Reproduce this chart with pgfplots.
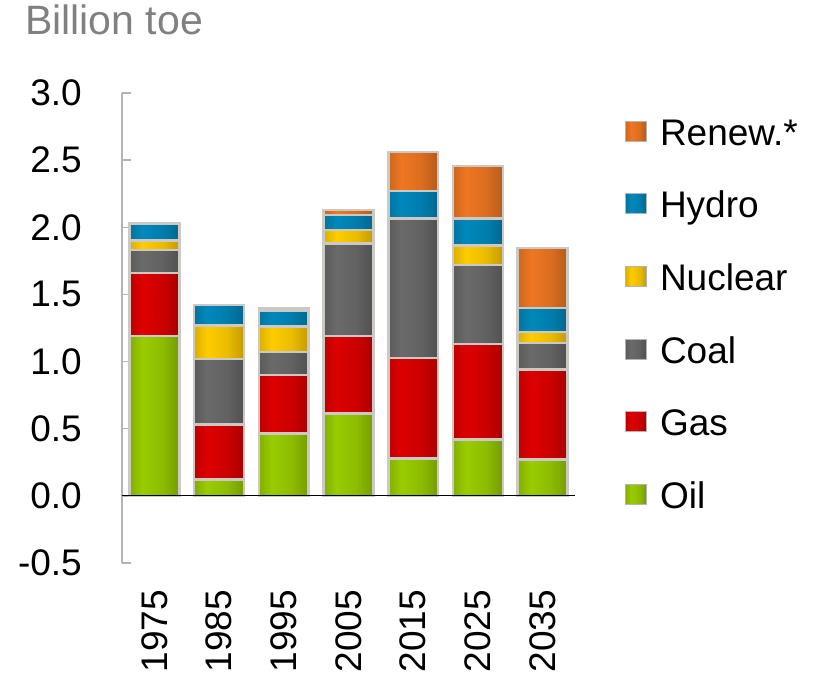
\documentclass[border=0pt]{standalone}
\usepackage{pgfplots}
\usepackage{pgfplotstable}
\pgfplotsset{compat=1.18}
\usepackage{fontspec}
\setmainfont{Liberation Sans}
\definecolor{oilc}{HTML}{99CC00}
\definecolor{gasc}{HTML}{DD0000}
\definecolor{coalc}{HTML}{6A6A6A}
\definecolor{nucc}{HTML}{FFCC00}
\definecolor{hydc}{HTML}{0088BB}
\definecolor{renc}{HTML}{EE7722}
\definecolor{axgray}{HTML}{B4B4B4}
\definecolor{sepgray}{HTML}{CCC8C4}
\definecolor{titlegray}{HTML}{808080}

\newcommand\mkshade[2]{%
  \pgfdeclarehorizontalshading{#1}{100bp}{color(0bp)=(#2!42!black); color(18bp)=(#2!78!black); color(38bp)=(#2); color(58bp)=(#2!92!black); color(84bp)=(#2!68!black); color(100bp)=(#2!42!black)}}
\mkshade{oilsh}{oilc}
\mkshade{gassh}{gasc}
\mkshade{coalsh}{coalc}
\mkshade{nucsh}{nucc}
\mkshade{hydsh}{hydc}
\mkshade{rensh}{renc}

\pgfplotstableread{
x oil gas coal nuc hyd ren
0 1.19 0.47 0.17 0.07 0.13 0.00
1 0.12 0.41 0.49 0.25 0.15 0.00
2 0.465 0.435 0.17 0.19 0.12 0.02
3 0.615 0.575 0.69 0.10 0.11 0.04
4 0.28 0.745 1.04 0.00 0.205 0.29
5 0.42 0.71 0.59 0.145 0.20 0.39
6 0.27 0.67 0.20 0.08 0.18 0.445
}\data
% cumulative tops of the stacked segments
\pgfplotstablecreatecol[expr={\thisrow{oil}}]{c1}\data
\pgfplotstablecreatecol[expr={\thisrow{c1}+\thisrow{gas}}]{c2}\data
\pgfplotstablecreatecol[expr={\thisrow{c2}+\thisrow{coal}}]{c3}\data
\pgfplotstablecreatecol[expr={\thisrow{c3}+\thisrow{nuc}}]{c4}\data
\pgfplotstablecreatecol[expr={\thisrow{c4}+\thisrow{hyd}}]{c5}\data
\pgfplotstablecreatecol[expr={\thisrow{c5}+\thisrow{ren}}]{c6}\data

\newcommand\legimg[1]{\addlegendimage{legend image code/.code={\draw[shading=#1, draw=axgray, line width=1pt] (0pt,4pt) rectangle (21pt,24pt);}}}

\begin{document}
\begin{tikzpicture}
\path[use as bounding box] (-122pt,-115pt) rectangle (708pt,563pt);
\begin{axis}[
  scale only axis, width=453pt, height=470pt,
  at={(0pt,0pt)}, anchor=south west,
  xmin=-0.5, xmax=6.5, ymin=-0.5, ymax=3.0,
  ybar, bar width=0.77,
  axis y line*=left, axis x line*=bottom,
  x axis line style={draw=none},
  y axis line style={draw=axgray, line width=2pt},
  xtick={0,1,2,3,4,5,6},
  xticklabels={1975,1985,1995,2005,2015,2025,2035},
  xtick style={draw=none},
  ytick={-0.5,0,0.5,1,1.5,2,2.5,3},
  ytick style={draw=axgray, line width=1.5pt},
  tick align=inside, major tick length=9pt,
  /pgf/number format/assume math mode=true,
  /pgf/number format/fixed,
  /pgf/number format/fixed zerofill,
  /pgf/number format/precision=1,
  tick label style={font=\fontsize{37}{44}\selectfont, inner sep=0pt},
  yticklabel style={anchor=east, xshift=-40pt},
  xticklabel style={rotate=90, anchor=east},
  xticklabel shift=27pt,
  every axis plot post/.append style={bar shift=0pt, draw=sepgray, line width=2.5pt},
  legend style={at={(1.110,0.953)}, anchor=north west, draw=none, fill=none,
    inner sep=0pt, row sep=34.6pt, column sep=13pt,
    font=\fontsize{37}{44}\selectfont,
    nodes={inner sep=0pt, text height=30pt, text depth=8pt, anchor=base west}},
  legend cell align=left,
]
\pgfplotsinvokeforeach{0,...,6}{
  \addplot[forget plot, shading=rensh, restrict x to domain=#1:#1] table[x=x,y=c6]{\data};
  \addplot[forget plot, shading=hydsh, restrict x to domain=#1:#1] table[x=x,y=c5]{\data};
  \addplot[forget plot, shading=nucsh, restrict x to domain=#1:#1] table[x=x,y=c4]{\data};
  \addplot[forget plot, shading=coalsh, restrict x to domain=#1:#1] table[x=x,y=c3]{\data};
  \addplot[forget plot, shading=gassh, restrict x to domain=#1:#1] table[x=x,y=c2]{\data};
  \addplot[forget plot, shading=oilsh, restrict x to domain=#1:#1] table[x=x,y=c1]{\data};
}
\legimg{rensh}\addlegendentry{Renew.*}
\legimg{hydsh}\addlegendentry{Hydro}
\legimg{nucsh}\addlegendentry{Nuclear}
\legimg{coalsh}\addlegendentry{Coal}
\legimg{gassh}\addlegendentry{Gas}
\legimg{oilsh}\addlegendentry{Oil}
\draw[black, line width=1.2pt] (axis cs:-0.5,0) -- (axis cs:6.5,0);
\end{axis}
\node[anchor=base west, text=titlegray, font=\fontsize{41}{48}\selectfont, inner sep=0pt] at (-97pt,528pt) {Billion toe};
\end{tikzpicture}
\end{document}
